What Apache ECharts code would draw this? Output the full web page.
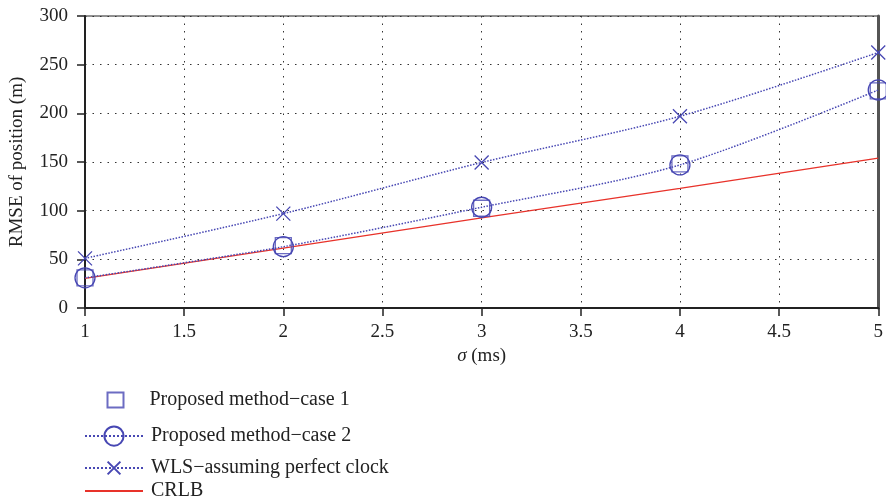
<!DOCTYPE html>
<html>
<head>
<meta charset="utf-8">
<script src="https://cdn.jsdelivr.net/npm/echarts@6/dist/echarts.min.js"></script>
<style>
  html, body { margin: 0; padding: 0; background: #fff; }
  #chart { width: 886px; height: 504px; }
</style>
</head>
<body>
<div id="chart"></div>
<script>
// sigma values (ms)
let sigma = [1, 2, 3, 4, 5];
// RMSE of position (m)
let case1 = [31, 64, 102.5, 148, 223];
let case2 = [31, 63, 103.5, 147, 224];
let wls = [51, 97, 149.5, 197, 262.5];
let crlb = [30.5, 61.5, 92.5, 123, 154];

let names = ['Proposed method\u2212case 1', 'Proposed method\u2212case 2', 'WLS\u2212assuming perfect clock', 'CRLB'];

let BLUE = '#4747b3';
let RED = '#e8322a';
let FONT = 'Liberation Serif';
let XMARK = 'path://M0,0L10,10M10,0L0,10';

function pairs(ys) {
	return sigma.map((x, i) => [x, ys[i]]);
}

// one legend per row, the rows in the picture are not evenly spaced
function legendRow(item, left, top, w, h, padLeft) {
	return {
		data: [item],
		left: left,
		top: top,
		itemWidth: w,
		itemHeight: h,
		selectedMode: false,
		textStyle: { fontFamily: FONT, fontSize: 20, color: '#222', padding: [0, 0, 0, padLeft] }
	};
}

let myChart = echarts.init(document.getElementById('chart'));

let option = {
	animation: false,
	textStyle: { fontFamily: FONT },
	grid: {
		left: 85,
		right: 7,
		top: 16,
		bottom: 196,
		show: true,
		borderColor: '#222',
		borderWidth: 1
	},
	legend: [
		legendRow(names[0], 100, 385, 16, 15, 21),
		legendRow(names[1], 79, 419, 58, 24, 3),
		legendRow(names[2], 79, 453, 58, 16, 3),
		legendRow({ name: names[3], itemStyle: { opacity: 0 } }, 79, 476, 58, 14, 3)
	],
	xAxis: [
		{
			type: 'value',
			min: 1,
			max: 5,
			interval: 0.5,
			name: '{i|\u03c3} (ms)',
			nameLocation: 'middle',
			nameGap: 37,
			nameTextStyle: {
				fontFamily: FONT, fontSize: 19, color: '#222',
				rich: { i: { fontFamily: FONT, fontSize: 19, fontStyle: 'italic', color: '#222' } }
			},
			axisLine: { lineStyle: { color: '#222', width: 2 } },
			axisTick: { length: 8, lineStyle: { color: '#222', width: 1.5 } },
			axisLabel: { fontFamily: FONT, fontSize: 19, color: '#222', margin: 15 },
			splitLine: { show: true, lineStyle: { color: '#333', type: [1.5, 6], width: 1 } }
		},
		{
			type: 'value',
			position: 'top',
			min: 1,
			max: 5,
			axisLine: { lineStyle: { color: '#222', width: 1.5 } },
			axisTick: { show: false },
			axisLabel: { show: false },
			splitLine: { show: false }
		}
	],
	yAxis: [
		{
			type: 'value',
			min: 0,
			max: 300,
			interval: 50,
			name: 'RMSE of position (m)',
			nameLocation: 'middle',
			nameGap: 58,
			nameTextStyle: { fontFamily: FONT, fontSize: 19, color: '#222' },
			axisLine: { show: true, lineStyle: { color: '#222', width: 2 } },
			axisTick: { show: true, length: 8, lineStyle: { color: '#222', width: 1.5 } },
			axisLabel: { fontFamily: FONT, fontSize: 19, color: '#222', margin: 17 },
			splitLine: { show: true, lineStyle: { color: '#333', type: [1.5, 6], width: 1 } }
		},
		{
			type: 'value',
			position: 'right',
			min: 0,
			max: 300,
			axisLine: { show: true, lineStyle: { color: '#555', width: 3 } },
			axisTick: { show: false },
			axisLabel: { show: false },
			splitLine: { show: false }
		}
	],
	series: [
		{
			name: names[0],
			type: 'scatter',
			symbol: 'rect',
			symbolSize: 16,
			itemStyle: { color: 'none', borderColor: BLUE, borderWidth: 1.3 },
			data: pairs(case1),
			z: 5
		},
		{
			name: names[1],
			type: 'line',
			smooth: 0.3,
			symbol: 'circle',
			symbolSize: 20,
			showAllSymbol: true,
			lineStyle: { color: BLUE, type: 'dotted', width: 1.5 },
			itemStyle: { color: 'none', borderColor: BLUE, borderWidth: 1.3 },
			data: pairs(case2),
			z: 4
		},
		{
			name: names[2],
			type: 'line',
			smooth: 0.3,
			symbol: XMARK,
			symbolSize: 14,
			lineStyle: { color: BLUE, type: 'dotted', width: 1.5 },
			itemStyle: { color: 'none', borderColor: BLUE, borderWidth: 1.3 },
			data: pairs(wls),
			z: 4
		},
		{
			name: names[3],
			type: 'line',
			symbol: 'none',
			lineStyle: { color: RED, width: 1.3 },
			itemStyle: { color: RED },
			data: pairs(crlb),
			z: 3
		}
	]
};

myChart.setOption(option);
</script>
</body>
</html>
